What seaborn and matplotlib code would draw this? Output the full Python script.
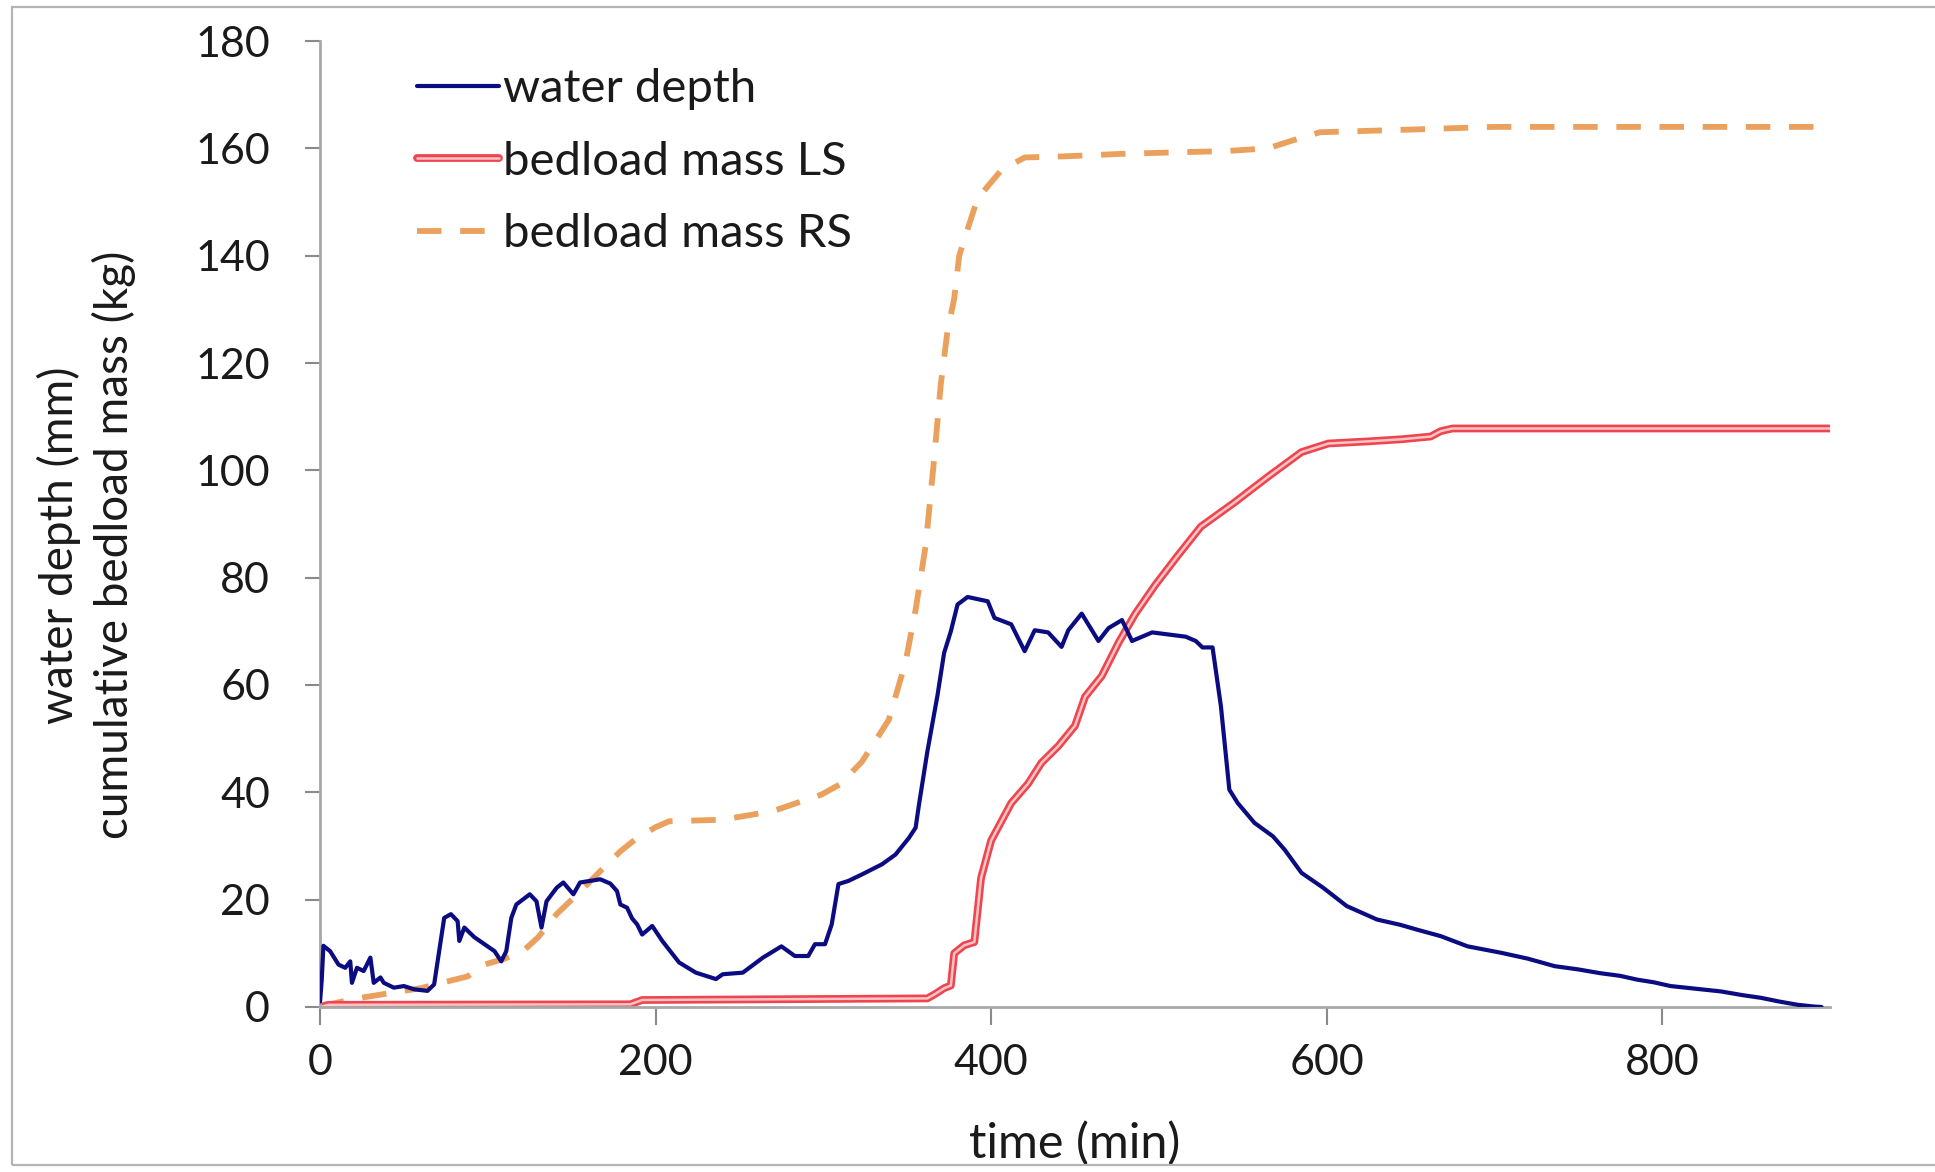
import numpy as np
import pandas as pd
import matplotlib
matplotlib.use("Agg")
import matplotlib.pyplot as plt
import matplotlib.patheffects as pe
from matplotlib.patches import Rectangle
import seaborn as sns

# ---------------- data ----------------
wd_t = [0, 1, 2, 6, 11, 15, 18, 19, 22, 26, 30, 32, 36, 38, 44, 50, 56, 64, 68, 71,
        74, 78, 82, 83, 86, 92, 98, 104, 108, 111, 114, 117, 125, 129, 132, 135, 141, 145, 151, 155,
        161, 167, 173, 177, 179, 183, 186, 189, 192, 198, 204, 214, 224, 236, 240, 252, 264, 275, 283, 291,
        295, 301, 305, 309, 315, 323, 335, 343, 351, 355, 357, 362, 368, 372, 376, 380, 386, 392, 398, 402,
        412, 420, 426, 434, 442, 446, 454, 464, 470, 478, 484, 496, 506, 516, 522, 526, 532, 537, 542, 547,
        557, 568, 575, 585, 598, 612, 630, 644, 654, 668, 684, 704, 720, 736, 750, 763, 775, 785, 795, 805,
        820, 835, 848, 859, 870, 881, 890, 895]
wd_v = [1.0, 5, 11.4, 10.4, 7.9, 7.3, 8.5, 4.5, 7.3, 6.7, 9.2, 4.5, 5.5, 4.5, 3.6, 3.9, 3.3, 3.0, 4.2, 10.4,
        16.6, 17.3, 16.0, 12.3, 14.8, 13.0, 11.7, 10.4, 8.5, 10.4, 16.6, 19.1, 21.0, 19.7, 14.8, 19.7, 22.2, 23.2, 21.0, 23.2,
        23.5, 23.8, 23.0, 21.6, 19.1, 18.5, 16.5, 15.4, 13.5, 15.1, 12.3, 8.3, 6.4, 5.2, 6.1, 6.4, 9.2, 11.3, 9.5, 9.5,
        11.7, 11.7, 15.4, 22.9, 23.5, 24.7, 26.6, 28.4, 31.5, 33.4, 37.7, 47.6, 58, 66, 70, 75, 76.4, 76, 75.6, 72.5,
        71.3, 66.3, 70.2, 69.8, 67.1, 70.2, 73.3, 68.2, 70.6, 72.1, 68.2, 69.8, 69.4, 69.0, 68.2, 67.0, 67.0, 56, 40.5, 38,
        34.3, 31.8, 29.3, 25, 22.2, 18.8, 16.3, 15.3, 14.4, 13.2, 11.3, 10.1, 9.0, 7.6, 7.0, 6.3, 5.8, 5.1, 4.6, 3.9,
        3.4, 2.9, 2.2, 1.7, 1.0, 0.4, 0.1, 0]

ls_t = [0, 5, 185, 192, 362, 366, 372, 376, 378, 384, 390, 394, 400, 412, 422, 430, 440, 450, 456, 466,
        476, 486, 498, 511, 525, 545, 565, 585, 601, 625, 645, 662, 668, 675, 900]
ls_v = [0, 0.4, 0.5, 1.3, 1.6, 2.3, 3.5, 4, 10, 11.5, 12.1, 24, 31, 38, 41.6, 45.5, 48.6, 52.4, 57.8, 61.7,
        67.9, 73.3, 78.7, 84, 89.5, 94, 98.8, 103.4, 105, 105.4, 105.8, 106.3, 107.3, 107.8, 107.8]

rs_t = [0, 10, 20, 40, 60, 70, 88, 98, 110, 121, 130, 141, 155, 167, 179, 189, 200, 208, 240, 270,
        299, 310, 323, 339, 349, 355, 361, 366, 370, 374, 378, 381, 385, 392, 406, 420, 443, 480, 540, 565,
        580, 596, 650, 700, 900]
rs_v = [0, 0.8, 1.5, 2.5, 3.5, 4.3, 5.7, 7.9, 9, 10.4, 13, 17.3, 21.5, 25.3, 29, 31.5, 33.5, 34.6, 34.9, 36.5,
        39.6, 41.5, 45.7, 53.5, 64.3, 74, 86, 102, 116, 126, 132, 140, 144, 150.7, 155.9, 158.3, 158.5, 159, 159.5, 160,
        161.5, 163, 163.5, 164, 164]

series_labels = ["water depth", "bedload mass LS", "bedload mass RS"]
x_ticks = [0, 200, 400, 600, 800]
y_ticks = [0, 20, 40, 60, 80, 100, 120, 140, 160, 180]
x_label = "time (min)"
y_label = "water depth (mm)\ncumulative bedload mass (kg)"

# ---------------- style ----------------
sns.set_style("white")
plt.rcParams["font.family"] = ["Lato", "DejaVu Sans"]

fig = plt.figure(figsize=(19.35, 11.72), dpi=100)
ax = fig.add_axes([0.1654, 0.1408, 0.9457 - 0.1654, 0.965 - 0.1408])

df_wd = pd.DataFrame({"t": wd_t, "v": wd_v})
df_ls = pd.DataFrame({"t": ls_t, "v": ls_v})
df_rs = pd.DataFrame({"t": rs_t, "v": rs_v})

sns.lineplot(data=df_wd, x="t", y="v", ax=ax, color="#0C0C82", lw=3.0,
             label=series_labels[0], estimator=None, sort=False, zorder=3)
sns.lineplot(data=df_ls, x="t", y="v", ax=ax, color="#FFC4C4", lw=1.8,
             label=series_labels[1], estimator=None, sort=False, zorder=2,
             path_effects=[pe.Stroke(linewidth=5.6, foreground="#EE4650"), pe.Normal()])
sns.lineplot(data=df_rs, x="t", y="v", ax=ax, color="#EBA15E", lw=4.2,
             label=series_labels[2], estimator=None, sort=False, zorder=1,
             linestyle=(0, (4.2, 3.2)))

ax.set_xlim(0, 900)
ax.set_ylim(0, 180)
ax.set_xticks(x_ticks)
ax.set_yticks(y_ticks)

for s in ["top", "right"]:
    ax.spines[s].set_visible(False)
for s in ["left", "bottom"]:
    ax.spines[s].set_color("#A8A8A8")
    ax.spines[s].set_linewidth(2.0)

ax.tick_params(axis="y", direction="out", length=11, width=1.5, color="#8A8A8A",
               labelsize=31, pad=25, labelcolor="#1A1A1A", left=True)
ax.tick_params(axis="x", direction="out", length=13, width=1.5, color="#8A8A8A",
               labelsize=31, pad=14, labelcolor="#1A1A1A", bottom=True)

ax.set_xlabel(x_label, fontsize=35, color="#1A1A1A")
ax.set_ylabel(y_label, fontsize=33, color="#1A1A1A", linespacing=1.3)
ax.xaxis.set_label_coords(0.5, -0.118)
ax.yaxis.set_label_coords(-0.122, 0.478)

leg = ax.legend(loc="upper left", bbox_to_anchor=(0.064, 0.972), frameon=False,
                fontsize=34, handlelength=1.75, handletextpad=0.08, labelspacing=0.65,
                borderpad=0, borderaxespad=0)
for txt in leg.get_texts():
    txt.set_color("#1A1A1A")

# thin grey frame around the figure
fig.add_artist(Rectangle((0.0062, 0.006), 1.1, 0.988, transform=fig.transFigure,
                         fill=False, edgecolor="#B4B4B4", lw=1.6))

fig.savefig("out.png", dpi=100, facecolor="white")
